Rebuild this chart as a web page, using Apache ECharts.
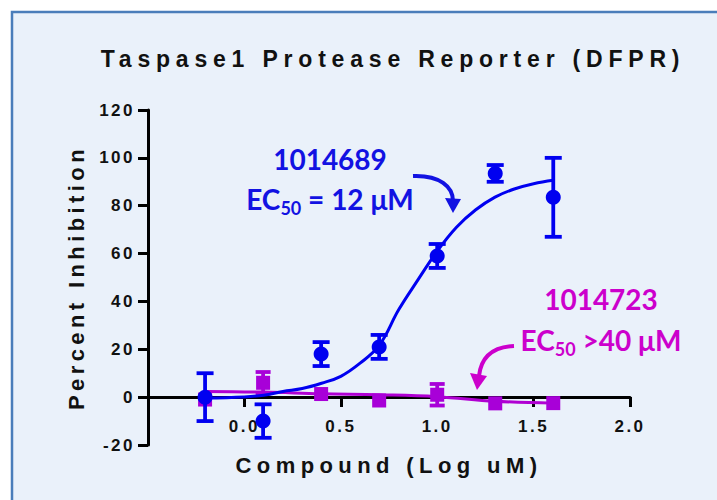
<!DOCTYPE html>
<html>
<head>
<meta charset="utf-8">
<script src="https://cdn.jsdelivr.net/npm/echarts@6/dist/echarts.min.js"></script>
<style>
html,body{margin:0;padding:0;background:#ffffff;}
#chart{width:717px;height:500px;}
</style>
</head>
<body>
<div id="chart"></div>
<script>
// ---------- data ----------
const titleText = 'Taspase1 Protease Reporter (DFPR)';
const xAxisName = 'Compound (Log uM)';
const yAxisName = 'Percent Inhibition';
const yTickLabels = ['-20', '0', '20', '40', '60', '80', '100', '120'];
const xTickLabels = ['0.0', '0.5', '1.0', '1.5', '2.0'];

// log10 concentration (uM)
const xLog = [-0.204, 0.097, 0.398, 0.699, 1.0, 1.301, 1.602];

// compound 1014689 (blue)
const blueName = '1014689';
const blueMean = [0, -10, 18, 21, 59, 93.5, 83.5];
const blueErr = [10, 7, 5, 5, 5, 3.5, 16.5];
const blueCurveX = [-0.204, 0, 0.1, 0.2, 0.3, 0.4, 0.5, 0.6, 0.7, 0.8, 0.9, 1.0, 1.1, 1.2, 1.3, 1.4, 1.5, 1.602];
const blueCurveY = [-0.4, 0.1, 0.8, 2.4, 3.6, 5.8, 8.7, 14.2, 21.7, 36.5, 49, 61, 71, 78.3, 83.6, 87, 89.2, 90.6];

// compound 1014723 (magenta)
const purpleName = '1014723';
const purpleMean = [-1, 6, 1.3, -1.4, 1, -2.6, -2.5];
const purpleErr = [0, 4.5, 0, 0, 4.5, 0, 0];
const purpleCurveX = [-0.204, 0.1, 0.4, 0.7, 1.0, 1.3, 1.602];
const purpleCurveY = [2.4, 2.1, 1.4, 1.0, 0.2, -1.7, -2.5];

// ---------- styling ----------
const FONT = "'Liberation Sans', Arial, sans-serif";
const ANNO = "Lato, 'Open Sans', sans-serif";
const BLUE = '#0000F0';
const BLUE_TXT = '#1212E2';
const PURPLE = '#A800D8';
const PURPLE_LINE = '#B000D2';
const MAGENTA_TXT = '#CC00CC';

const chart = echarts.init(document.getElementById('chart'), null, {renderer: 'svg'});

function errorSeries(name, means, errs, color, capHalf) {
  return {
    type: 'custom',
    name: name + ' SEM',
    data: xLog.map((x, i) => [x, means[i], errs[i]]),
    z: 3,
    silent: true,
    renderItem: function (params, api) {
      const x = api.value(0), m = api.value(1), e = api.value(2);
      if (!e) return null;
      const top = api.coord([x, m + e]);
      const bot = api.coord([x, m - e]);
      const st = {stroke: color, lineWidth: 3.8, fill: 'none'};
      return {
        type: 'group',
        children: [
          {type: 'line', shape: {x1: top[0], y1: top[1], x2: bot[0], y2: bot[1]}, style: st},
          {type: 'line', shape: {x1: top[0] - capHalf, y1: top[1], x2: top[0] + capHalf, y2: top[1]}, style: st},
          {type: 'line', shape: {x1: bot[0] - capHalf, y1: bot[1], x2: bot[0] + capHalf, y2: bot[1]}, style: st}
        ]
      };
    }
  };
}

const option = {
  animation: false,
  backgroundColor: '#ffffff',
  title: {
    text: titleText,
    left: 388,
    top: 42,
    textAlign: 'center',
    textStyle: {fontFamily: FONT, fontWeight: 'bold', fontSize: 23, color: '#111111'}
  },
  grid: {left: 148, right: 87, top: 110, bottom: 55, containLabel: false, outerBoundsMode: 'none'},
  xAxis: {
    type: 'value',
    min: -0.5, max: 2.0, interval: 0.5,
    position: 'bottom',
    offset: -48,
    name: xAxisName,
    nameLocation: 'middle',
    nameGap: 57,
    nameTextStyle: {fontFamily: FONT, fontWeight: 'bold', fontSize: 22, color: '#111111'},
    axisLine: {onZero: false, lineStyle: {color: '#000000', width: 3}},
    axisTick: {length: 10, lineStyle: {color: '#000000', width: 3}},
    axisLabel: {
      margin: 21,
      fontFamily: FONT, fontWeight: 'bold', fontSize: 17, color: '#111111',
      formatter: function (v) { const s = v.toFixed(1); return xTickLabels.indexOf(s) >= 0 ? s : ''; }
    },
    splitLine: {show: false}
  },
  yAxis: {
    type: 'value',
    min: -20, max: 120, interval: 20,
    name: yAxisName,
    nameLocation: 'middle',
    nameRotate: 90,
    nameGap: 61,
    nameTextStyle: {fontFamily: FONT, fontWeight: 'bold', fontSize: 22, color: '#111111'},
    axisLine: {onZero: false, lineStyle: {color: '#000000', width: 3}},
    axisTick: {length: 10, lineStyle: {color: '#000000', width: 3}},
    axisLabel: {
      margin: 13,
      fontFamily: FONT, fontWeight: 'bold', fontSize: 17, color: '#111111',
      formatter: function (v) { const s = String(v); return yTickLabels.indexOf(s) >= 0 ? s : ''; }
    },
    splitLine: {show: false}
  },
  graphic: [
    {type: 'rect', z: -100, silent: true,
      shape: {x: 12, y: 12, width: 720, height: 500},
      style: {fill: '#EAF1FA', stroke: '#4A7DBA', lineWidth: 2.5}},
    // blue annotation
    {type: 'text', z: 50, silent: true, x: 330, y: 159,
      style: {text: blueName, fill: BLUE_TXT, font: 'bold 28px ' + ANNO, align: 'center', verticalAlign: 'middle'}},
    {type: 'text', z: 50, silent: true, x: 330, y: 199,
      style: {
        text: '{m|EC}{s|50}{m| = 12 μM}', align: 'center', verticalAlign: 'middle',
        rich: {
          m: {fill: BLUE_TXT, fontFamily: ANNO, fontWeight: 'bold', fontSize: 28, lineHeight: 34},
          s: {fill: BLUE_TXT, fontFamily: ANNO, fontWeight: 'bold', fontSize: 18, lineHeight: 34, padding: [18, 0, 0, 0]}
        }
      }},
    {type: 'bezierCurve', z: 50, silent: true,
      shape: {x1: 413, y1: 176, cpx1: 440, cpy1: 175, cpx2: 453, cpy2: 187, x2: 453, y2: 201},
      style: {stroke: BLUE_TXT, lineWidth: 4, fill: 'none'}},
    {type: 'polygon', z: 50, silent: true,
      shape: {points: [[445, 198], [461, 199], [453, 213]]},
      style: {fill: BLUE_TXT}},
    // magenta annotation
    {type: 'text', z: 50, silent: true, x: 601, y: 299,
      style: {text: purpleName, fill: MAGENTA_TXT, font: 'bold 28px ' + ANNO, align: 'center', verticalAlign: 'middle'}},
    {type: 'text', z: 50, silent: true, x: 601, y: 340,
      style: {
        text: '{m|EC}{s|50}{m| >40 μM}', align: 'center', verticalAlign: 'middle',
        rich: {
          m: {fill: MAGENTA_TXT, fontFamily: ANNO, fontWeight: 'bold', fontSize: 28, lineHeight: 34},
          s: {fill: MAGENTA_TXT, fontFamily: ANNO, fontWeight: 'bold', fontSize: 18, lineHeight: 34, padding: [18, 0, 0, 0]}
        }
      }},
    {type: 'bezierCurve', z: 50, silent: true,
      shape: {x1: 514, y1: 346, cpx1: 492, cpy1: 347, cpx2: 481, cpy2: 358, x2: 479, y2: 376},
      style: {stroke: MAGENTA_TXT, lineWidth: 4, fill: 'none'}},
    {type: 'polygon', z: 50, silent: true,
      shape: {points: [[470, 373], [487, 376], [477, 390]]},
      style: {fill: MAGENTA_TXT}}
  ],
  series: [
    {
      type: 'line', name: purpleName + ' fit',
      data: purpleCurveX.map((x, i) => [x, purpleCurveY[i]]),
      smooth: 0.4, showSymbol: false, symbol: 'none', z: 2, silent: true,
      lineStyle: {color: PURPLE_LINE, width: 3}
    },
    errorSeries(purpleName, purpleMean, purpleErr, PURPLE, 7.5),
    {
      type: 'scatter', name: purpleName,
      data: xLog.map((x, i) => [x, purpleMean[i]]),
      symbol: 'rect', symbolSize: 14, z: 4, silent: true,
      itemStyle: {color: PURPLE, opacity: 1}
    },
    {
      type: 'line', name: blueName + ' fit',
      data: blueCurveX.map((x, i) => [x, blueCurveY[i]]),
      smooth: 0.4, showSymbol: false, symbol: 'none', z: 5, silent: true,
      lineStyle: {color: BLUE, width: 3}
    },
    Object.assign(errorSeries(blueName, blueMean, blueErr, BLUE, 8.5), {z: 6}),
    {
      type: 'scatter', name: blueName,
      data: xLog.map((x, i) => [x, blueMean[i]]),
      symbol: 'circle', symbolSize: 15, z: 7, silent: true,
      itemStyle: {color: BLUE, opacity: 1}
    }
  ]
};

chart.setOption(option);

// letter spacing like the reference typography (applied to rendered SVG text)
function spacingFor(s) {
  if (s === titleText) return 5.8;
  if (s === xAxisName) return 5.4;
  if (s === yAxisName) return 4.4;
  if (yTickLabels.indexOf(s) >= 0 || xTickLabels.indexOf(s) >= 0) return 2.5;
  return 0;
}
function applySpacing() {
  document.querySelectorAll('#chart svg text').forEach(function (t) {
    const ls = spacingFor(t.textContent);
    if (ls && t.getAttribute('letter-spacing') !== String(ls)) t.setAttribute('letter-spacing', String(ls));
  });
}
applySpacing();
chart.on('finished', applySpacing);
new MutationObserver(applySpacing).observe(document.getElementById('chart'), {childList: true, subtree: true});
setTimeout(applySpacing, 50);
</script>
</body>
</html>
